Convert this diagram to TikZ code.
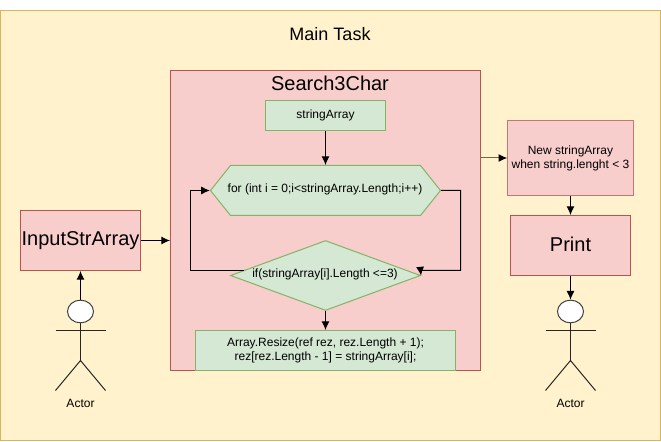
\documentclass[tikz,border=0pt]{standalone}
\usepackage{fontspec}
\setmainfont{Liberation Sans}
\usetikzlibrary{arrows.meta, shapes.geometric, shapes.symbols}
\definecolor{taskfill}{HTML}{FFF2CC}
\definecolor{taskline}{HTML}{D6B656}
\definecolor{redfill}{HTML}{F8CECC}
\definecolor{redline}{HTML}{B85450}
\definecolor{greenfill}{HTML}{D5E8D4}
\definecolor{greenline}{HTML}{82B366}
\tikzset{
    redbox/.style={draw=redline, fill=redfill, rectangle, inner sep=0pt, align=center},
    greenbox/.style={draw=greenline, fill=greenfill, rectangle, inner sep=0pt, align=center, font=\fontsize{9}{10.5}\selectfont},
    flow/.style={-{Latex[length=6.5pt, width=6pt]}, black},
    actorline/.style={draw=black!85}
}
\begin{document}
\begin{tikzpicture}[x=0.75pt, y=-0.75pt, line width=0.75pt]
    \useasboundingbox (0, 0) rectangle (661, 442);
    \node[draw=taskline, fill=taskfill, rectangle, minimum width=495pt, minimum height=322.5pt, inner sep=0pt] (maintask) at (330.5, 225.5) {};
    \node[font=\fontsize{13.5}{16}\selectfont] (maintitle) at (330, 34) {Main Task};
    \node[redbox, minimum width=232.5pt, minimum height=225pt] (search) at (325.5, 220.5) {};
    \node[font=\fontsize{15}{18}\selectfont] (searchtitle) at (330, 83) {Search3Char};
    \node[greenbox, minimum width=90pt, minimum height=22.5pt] (strarray) at (325.5, 115.5) {stringArray};
    \node[greenbox, signal, signal to=east and west, signal pointer angle=102.7, minimum width=172.5pt, minimum height=37.5pt] (forloop) at (325.5, 190.5) {};
    \node[font=\fontsize{9}{10.5}\selectfont] (fortext) at (325, 189) {for (int i = 0;i\textless stringArray.Length;i++)};
    \node[draw=greenline, fill=greenfill, diamond, minimum width=142.5pt, minimum height=52.5pt, inner sep=0pt, aspect=2.71] (ifcheck) at (325.5, 275.5) {};
    \node[font=\fontsize{9}{10.5}\selectfont] (iftext) at (325, 274.5) {if(stringArray[i].Length \textless =3)};
    \node[greenbox, minimum width=195pt, minimum height=30pt] (resize) at (325.5, 350.5) {Array.Resize(ref rez, rez.Length + 1);\\rez[rez.Length - 1] = stringArray[i];};
    \node[redbox, minimum width=90pt, minimum height=45pt, font=\fontsize{15}{18}\selectfont] (input) at (80.5, 240.5) {\raisebox{0.75pt}{InputStrArray}};
    \node[redbox, draw=redline!80, minimum width=94.2pt, minimum height=56.5pt, font=\fontsize{9}{10.5}\selectfont] (newarray) at (570.5, 158) {New stringArray\\when string.lenght \textless{} 3};
    \node[redbox, minimum width=90pt, minimum height=45pt, font=\fontsize{15}{18}\selectfont] (print) at (570.5, 245.5) {\raisebox{2.25pt}{Print}};
    % actors
    \foreach \ax/\nm in {80.5/left, 570.5/right} {
        \node[draw=black!75, fill=white, ellipse, minimum width=19.5pt, minimum height=17pt, inner sep=0pt] (head\nm) at (\ax, 311.5) {};
        \coordinate (arml\nm) at (\ax - 25, 330.5);
        \coordinate (armr\nm) at (\ax + 25, 330.5);
        \coordinate (hip\nm) at (\ax, 360.5);
        \coordinate (footl\nm) at (\ax - 25, 390.5);
        \coordinate (footr\nm) at (\ax + 25, 390.5);
        \draw[actorline] (head\nm.south) -- (hip\nm);
        \draw[actorline] (arml\nm) -- (armr\nm);
        \draw[actorline] (footl\nm) -- (hip\nm) -- (footr\nm);
        \node[font=\fontsize{9}{10}\selectfont] (label\nm) at (\ax, 403) {Actor};
    }
    % connectors
    \draw[flow] (headleft.north) -- (input.south);
    \draw[flow] (input.east) -- (input.east -| search.west);
    \draw[flow] (strarray.south) -- (forloop.north);
    \coordinate (ifleft) at (243.5, 270.5);
    \coordinate (ifright) at (420.5, 270.5);
    \coordinate (loopleft) at (190.5, 270.5);
    \coordinate (loopright) at (460.5, 270.5);
    \draw[flow] (ifleft) -- (loopleft) |- (forloop.west);
    \draw[flow] (forloop.east) -| (loopright) -- (ifright) -- (ifcheck.east);
    \draw[flow] (ifcheck.south) -- (resize.north);
    \draw[-{Latex[length=6.5pt, width=6pt, black]}, draw=black!50!taskline!70!gray] (search.east |- newarray.west) -- (newarray.west);
    \draw[flow] (newarray.south) -- (print.north);
    \draw[flow] (print.south) -- (headright.north);
\end{tikzpicture}
\end{document}
